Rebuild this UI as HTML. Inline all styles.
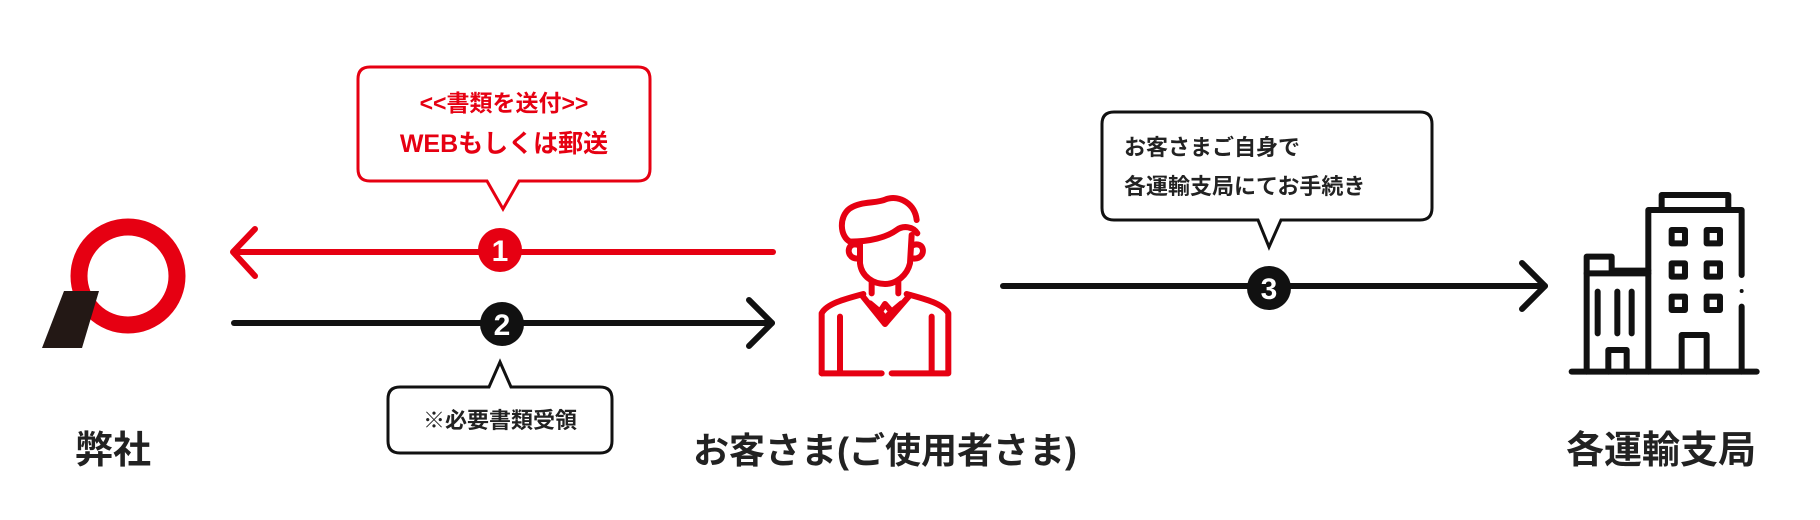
<!DOCTYPE html>
<html><head><meta charset="utf-8"><style>
html,body{margin:0;padding:0;background:#fff;}
body{width:1820px;height:520px;position:relative;overflow:hidden;font-family:"Liberation Sans","Noto Sans CJK JP",sans-serif;}
.t{position:absolute;white-space:nowrap;font-weight:bold;}
</style></head><body>
<svg width="1820" height="520" style="position:absolute;left:0;top:0" xmlns="http://www.w3.org/2000/svg">
<!-- logo -->
<circle cx="128" cy="276" r="49" fill="none" stroke="#e60012" stroke-width="17"/>
<polygon points="64,291 99,291 82,348 42,348" fill="#231815"/>
<!-- red arrow -->
<line x1="234" y1="252" x2="773" y2="252" stroke="#e60012" stroke-width="6" stroke-linecap="round"/>
<polyline points="255,229 233,252 255,276" fill="none" stroke="#e60012" stroke-width="6" stroke-linecap="round" stroke-linejoin="round"/>
<circle cx="500" cy="250" r="22" fill="#e60012"/>
<text x="500" y="261" text-anchor="middle" font-family="Liberation Sans" font-weight="bold" font-size="30" fill="#fff">1</text>
<!-- black arrow -->
<line x1="234" y1="323" x2="772" y2="323" stroke="#111" stroke-width="6" stroke-linecap="round"/>
<polyline points="749,300 772,323 749,346" fill="none" stroke="#111" stroke-width="6" stroke-linecap="round" stroke-linejoin="round"/>
<circle cx="502" cy="324" r="22" fill="#111"/>
<text x="502" y="335" text-anchor="middle" font-family="Liberation Sans" font-weight="bold" font-size="30" fill="#fff">2</text>
<!-- arrow 3 -->
<line x1="1003" y1="286" x2="1545" y2="286" stroke="#111" stroke-width="6" stroke-linecap="round"/>
<polyline points="1522,263 1545,286 1522,309" fill="none" stroke="#111" stroke-width="6" stroke-linecap="round" stroke-linejoin="round"/>
<circle cx="1269" cy="288" r="22" fill="#111"/>
<text x="1269" y="299" text-anchor="middle" font-family="Liberation Sans" font-weight="bold" font-size="30" fill="#fff">3</text>
<!-- red bubble -->
<path d="M370,67 H638 Q650,67 650,79 V169 Q650,181 638,181 H519 L503,209 L487,181 H370 Q358,181 358,169 V79 Q358,67 370,67 Z" fill="#fff" stroke="#e60012" stroke-width="3"/>
<!-- bottom bubble -->
<path d="M400,387 H489 L500,362 L511,387 H600 Q612,387 612,399 V441 Q612,453 600,453 H400 Q388,453 388,441 V399 Q388,387 400,387 Z" fill="#fff" stroke="#111" stroke-width="3"/>
<!-- bubble 3 -->
<path d="M1114,112 H1420 Q1432,112 1432,124 V208 Q1432,220 1420,220 H1281 L1269,247 L1258,220 H1114 Q1102,220 1102,208 V124 Q1102,112 1114,112 Z" fill="#fff" stroke="#111" stroke-width="3"/>
<!-- person -->
<g transform="translate(800,180) scale(0.3333)" fill="none" stroke="#e60012" stroke-width="18" stroke-linecap="round" stroke-linejoin="round">
<path d="M150,185 C120,170 115,110 150,85 C185,62 230,72 260,57 C300,45 345,72 350,120"/>
<path d="M352,160 C340,140 310,135 290,150 C260,172 210,185 150,185"/>
<path d="M180,190 L180,250 C185,290 220,312 255,312 C290,312 322,285 330,250 L335,165"/>
<path d="M180,235 C150,240 140,215 150,200 C158,190 172,192 180,198"/>
<path d="M335,235 C365,240 375,215 365,200 C357,190 343,192 335,198"/>
<path d="M215,305 L215,340 M295,300 L295,340"/>
<path d="M185,345 L255,432 L330,345"/>
<path d="M210,370 L240,395 L255,372 L275,395 L305,370 M240,395 L255,415 L275,395"/>
<path d="M65,580 L65,400 C80,372 130,358 190,342"/>
<path d="M320,342 C380,358 430,372 445,400 L445,580 L275,580"/>
<path d="M245,580 L65,580"/>
<path d="M120,410 L120,578 M395,410 L395,578"/>
</g>
<!-- building -->
<g transform="translate(1560,180) scale(0.3333)" fill="none" stroke="#111" stroke-width="18" stroke-linecap="round" stroke-linejoin="round">
<path d="M35,575 H590"/>
<path d="M265,575 V90 H545 V285 M545,380 V575"/>
<circle cx="545" cy="333" r="6" fill="#111" stroke="none"/>
<path d="M305,90 V45 H505 V90"/>
<path d="M80,575 V230 H155 V272 H265"/>
<path d="M80,280 H265"/>
<path d="M113,335 V460 M172,335 V460 M215,335 V460"/>
<path d="M145,575 V510 H200 V575"/>
<path d="M365,575 V465 H440 V575"/>
<rect x="335" y="150" width="40" height="40"/><rect x="440" y="150" width="40" height="40"/>
<rect x="335" y="250" width="40" height="40"/><rect x="440" y="250" width="40" height="40"/>
<rect x="335" y="350" width="40" height="40"/><rect x="440" y="350" width="40" height="40"/>
</g>
</svg>
<div class="t" style="left:358px;top:87px;width:292px;text-align:center;color:#e60012;font-size:23px;line-height:32px;">&lt;&lt;書類を送付&gt;&gt;</div>
<div class="t" style="left:358px;top:128px;width:292px;text-align:center;color:#e60012;font-size:25px;line-height:32px;">WEBもしくは郵送</div>
<div class="t" style="left:388px;top:405px;width:224px;text-align:center;color:#222;font-size:22px;line-height:32px;">※必要書類受領</div>
<div class="t" style="left:1124px;top:133px;color:#222;font-size:22px;line-height:30px;">お客さまご自身で</div>
<div class="t" style="left:1124px;top:172px;color:#222;font-size:22px;line-height:30px;">各運輸支局にてお手続き</div>
<div class="t" style="left:75px;top:428px;color:#222;font-size:38px;line-height:46px;">弊社</div>
<div class="t" style="left:693px;top:428px;color:#222;font-size:36px;line-height:46px;">お客さま(ご使用者さま)</div>
<div class="t" style="left:1566px;top:428px;color:#222;font-size:38px;line-height:46px;">各運輸支局</div>
</body></html>
